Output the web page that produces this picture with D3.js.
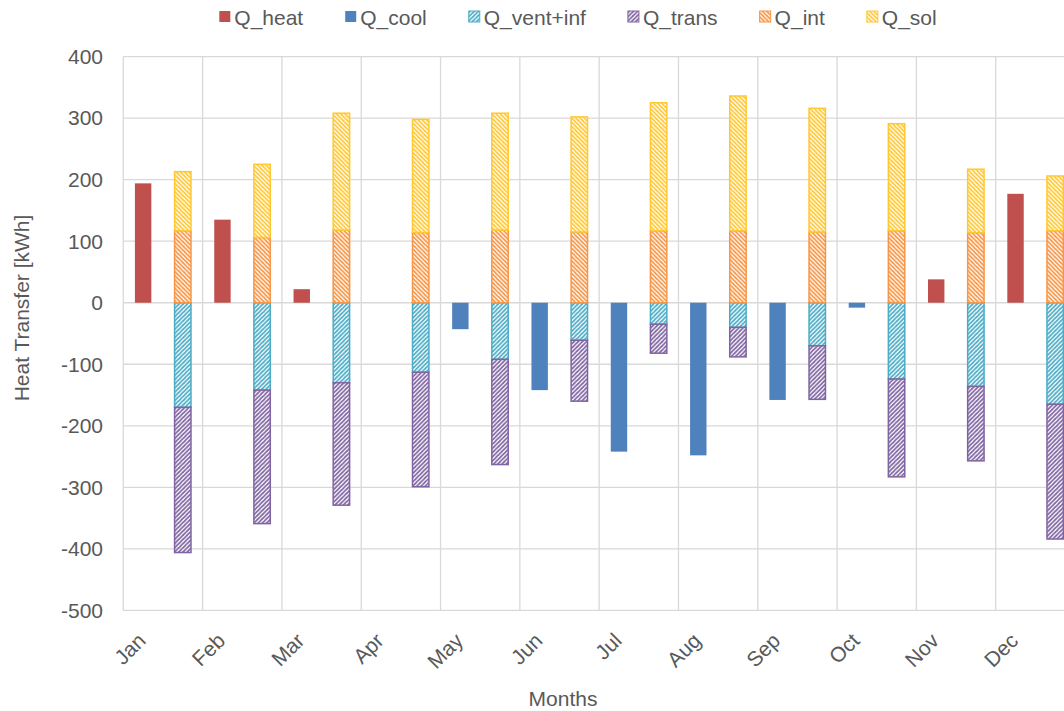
<!DOCTYPE html>
<html>
<head>
<meta charset="utf-8">
<script src="https://cdn.jsdelivr.net/npm/d3@7"></script>
<style>
  body { margin: 0; background: #fff; }
  svg { display: block; font-family: "Liberation Sans", Arial, sans-serif; }
</style>
</head>
<body>
<div id="chart"></div>
<script>
// monthly energy balance, kWh
const months = ["Jan","Feb","Mar","Apr","May","Jun","Jul","Aug","Sep","Oct","Nov","Dec"]
const qHeat  = [194, 135, 22, 0, 0, 0, 0, 0, 0, 0, 38, 177]
const qCool  = [0, 0, 0, 0, -43, -142, -242, -248, -158, -8, 0, 0]
const qVent  = [-170, -142, -130, -113, -92, -61, -35, -40, -70, -124, -136, -165]
const qTrans = [-236, -217, -199, -186, -171, -99, -47, -48, -87, -159, -121, -219]
const qInt   = [117, 106, 118, 114, 118, 115, 117, 117, 115, 117, 114, 117]
const qSol   = [96, 119, 190, 184, 190, 187, 208, 219, 201, 174, 103, 89]
const yTicks = [-500, -400, -300, -200, -100, 0, 100, 200, 300, 400]

const series = [
  {key: "Q_heat",     values: qHeat,  color: "#C0504D", hatch: null},
  {key: "Q_cool",     values: qCool,  color: "#4F81BD", hatch: null},
  {key: "Q_vent+inf", values: qVent,  color: "#4BACC6", hatch: "up"},
  {key: "Q_trans",    values: qTrans, color: "#8064A2", hatch: "up"},
  {key: "Q_int",      values: qInt,   color: "#F79646", hatch: "down"},
  {key: "Q_sol",      values: qSol,   color: "#FFC832", hatch: "down"}
]

drawChart("#chart")

function drawChart(id){
  const canvas = createCanvas()
  const svg = addSvg(id, canvas)
  addPatterns(svg)
  const sc = addScales(canvas)
  addGrid(svg, sc, canvas)
  addBars(svg, sc)
  addAxes(svg, sc, canvas)
  addLegend(svg)
}

function createCanvas(){
  // plot area runs a bit past the right edge, like the cropped original
  return {width: 1064, height: 711, left: 123.3, right: 1075, top: 56.6, bottom: 610.4}
}

function addSvg(id, canvas){
  return d3.select(id).append("svg")
    .attr("width", canvas.width).attr("height", canvas.height)
}

function addPatterns(svg){
  const defs = svg.append("defs")
  const s = 4.2
  series.filter(d => d.hatch).forEach((d, i) => {
    const p = defs.append("pattern")
      .attr("id", "hatch" + i)
      .attr("patternUnits", "userSpaceOnUse")
      .attr("width", s).attr("height", s)
    p.append("rect").attr("width", s).attr("height", s).attr("fill", "#fff")
    const path = d.hatch === "up"
      ? `M0,${s} L${s},0 M${-s/2},${s/2} L${s/2},${-s/2} M${s/2},${s*1.5} L${s*1.5},${s/2}`
      : `M0,0 L${s},${s} M${-s/2},${s/2} L${s/2},${s*1.5} M${s/2},${-s/2} L${s*1.5},${s/2}`
    p.append("path").attr("d", path).attr("stroke", d.color).attr("stroke-width", 1.65)
    d.fill = "url(#hatch" + i + ")"
  })
  series.filter(d => !d.hatch).forEach(d => d.fill = d.color)
}

function addScales(canvas){
  // two slots per month: left one for heating/cooling, right one for the balance
  const xScale = d3.scaleBand().domain(d3.range(months.length * 2))
    .range([canvas.left, canvas.right])
  const yScale = d3.scaleLinear().domain([-500, 400])
    .range([canvas.bottom, canvas.top])
  return {xScale, yScale}
}

function addGrid(svg, sc, canvas){
  const g = svg.append("g").attr("stroke", "#D9D9D9").attr("stroke-width", 1.3)
  g.selectAll(".hg").data(yTicks).join("line")
    .attr("x1", canvas.left).attr("x2", canvas.right)
    .attr("y1", d => sc.yScale(d)).attr("y2", d => sc.yScale(d))
  const xs = d3.range(0, months.length * 2 + 1, 2)
    .map(i => canvas.left + i * sc.xScale.step())
  g.selectAll(".vg").data(xs).join("line")
    .attr("x1", d => d).attr("x2", d => d)
    .attr("y1", canvas.top).attr("y2", canvas.bottom)
}

function addBars(svg, sc){
  const bw = sc.xScale.bandwidth() * 0.414
  const rows = months.map((m, i) => {
    const r = {i}
    series.forEach(s => r[s.key] = s.values[i])
    return r
  })
  const groups = [
    {keys: ["Q_heat", "Q_cool"], slot: i => 2 * i},
    {keys: ["Q_vent+inf", "Q_trans", "Q_int", "Q_sol"], slot: i => 2 * i + 1}
  ]
  groups.forEach(grp => {
    const stacked = d3.stack().keys(grp.keys).offset(d3.stackOffsetDiverging)(rows)
    stacked.forEach(layer => {
      const s = series.find(d => d.key === layer.key)
      svg.append("g").selectAll("rect").data(layer.filter(d => d[1] !== d[0])).join("rect")
        .attr("x", d => sc.xScale(grp.slot(d.data.i)) + (sc.xScale.bandwidth() - bw) / 2)
        .attr("width", bw)
        .attr("y", d => sc.yScale(Math.max(d[0], d[1])))
        .attr("height", d => Math.abs(sc.yScale(d[0]) - sc.yScale(d[1])))
        .attr("fill", s.fill)
        .attr("stroke", s.hatch ? s.color : "none")
        .attr("stroke-width", 1.5)
    })
  })
}

function addAxes(svg, sc, canvas){
  const txt = "#595959"
  svg.append("g").selectAll("text").data(yTicks).join("text")
    .attr("x", 103).attr("y", d => sc.yScale(d)).attr("dy", "0.35em")
    .attr("text-anchor", "end").attr("font-size", 21).attr("fill", txt)
    .text(d => d)

  svg.append("g").selectAll("text").data(months).join("text")
    .attr("transform", (d, i) => {
      const cx = sc.xScale(2 * i) + sc.xScale.bandwidth() / 2 + 4
      return `translate(${cx},642) rotate(-45)`
    })
    .attr("text-anchor", "end").attr("font-size", 21).attr("fill", txt)
    .text(d => d)

  svg.append("text")
    .attr("transform", "translate(29,308) rotate(-90)")
    .attr("text-anchor", "middle").attr("font-size", 21).attr("fill", txt)
    .text("Heat Transfer [kWh]")

  svg.append("text")
    .attr("x", 563).attr("y", 706)
    .attr("text-anchor", "middle").attr("font-size", 21).attr("fill", txt)
    .text("Months")
}

function addLegend(svg){
  const g = svg.append("g")
  let x = 0
  series.forEach(s => {
    const item = g.append("g").attr("transform", `translate(${x},0)`)
    item.append("rect").attr("x", 0).attr("y", 11).attr("width", 11).attr("height", 11)
      .attr("fill", s.fill).attr("stroke", s.hatch ? s.color : "none").attr("stroke-width", 1)
    const t = item.append("text").attr("x", 15).attr("y", 25)
      .attr("font-size", 21).attr("fill", "#595959").text(s.key)
    x += 15 + t.node().getComputedTextLength() + 42
  })
  const total = x - 42
  g.attr("transform", `translate(${578 - total / 2},0)`)
}
</script>
</body>
</html>
